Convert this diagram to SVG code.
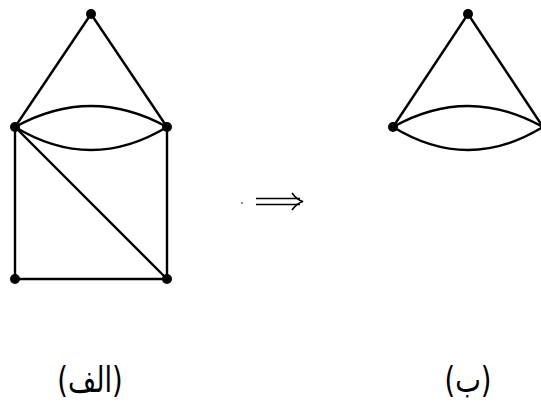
<svg xmlns="http://www.w3.org/2000/svg" width="541" height="405" viewBox="0 0 541 405">
<style>
.e{fill:none;stroke:#000;stroke-width:2.4}
.v{fill:#000}
.lbl{font-family:"DejaVu Sans","Noto Sans",sans-serif;font-size:26px;fill:#000}
</style>
<rect width="541" height="405" fill="#fff"/>
<g id="connectors">
<line class="e" x1="91" y1="14" x2="15" y2="127"/>
<line class="e" x1="91" y1="14" x2="167" y2="127"/>
<path class="e" d="M15,127 Q91,85 167,127"/>
<path class="e" d="M15,127 Q91,173 167,127"/>
<line class="e" x1="15" y1="127" x2="15" y2="279"/>
<line class="e" x1="167" y1="127" x2="167" y2="279"/>
<line class="e" x1="15" y1="127" x2="167" y2="279"/>
<line class="e" x1="15" y1="279" x2="167" y2="279"/>
<line class="e" x1="468" y1="14" x2="393" y2="127"/>
<line class="e" x1="468" y1="14" x2="543" y2="127"/>
<path class="e" d="M393,127 Q468,85 543,127"/>
<path class="e" d="M393,127 Q468,173 543,127"/>
</g>
<g id="n1"><circle class="v" cx="91" cy="14" r="5"/></g>
<g id="n2"><circle class="v" cx="15" cy="127" r="5"/></g>
<g id="n3"><circle class="v" cx="167" cy="127" r="5"/></g>
<g id="n4"><circle class="v" cx="15" cy="279" r="5"/></g>
<g id="n5"><circle class="v" cx="167" cy="279" r="5"/></g>
<g id="m1"><circle class="v" cx="468" cy="14" r="5"/></g>
<g id="m2"><circle class="v" cx="393" cy="127" r="5"/></g>
<g id="arrow">
<circle class="v" cx="242" cy="203" r="0.8"/>
<path class="e" style="stroke-width:1.4" d="M256,198.5 H300 M256,204.5 H300"/>
<path class="e" style="stroke-width:1.6" d="M292,193 Q297,200 303,201.5 Q297,203 292,210"/>
</g>
<g id="labelA"><text class="lbl" transform="translate(90,392) scale(1.05,1.35)" text-anchor="middle" direction="rtl">(الف)</text></g>
<g id="labelB"><text class="lbl" transform="translate(468,392) scale(1.05,1.35)" text-anchor="middle" direction="rtl">(ب)</text></g>
</svg>
